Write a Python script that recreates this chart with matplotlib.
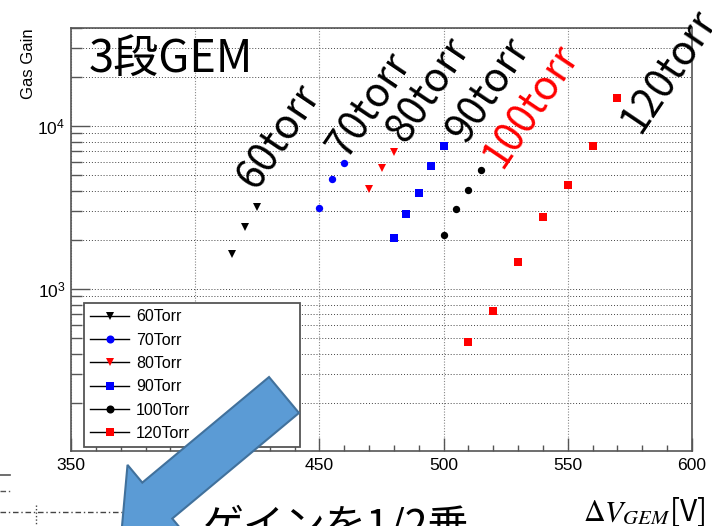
import matplotlib
matplotlib.use("Agg")
import matplotlib.pyplot as plt
from matplotlib.lines import Line2D
from matplotlib.patches import Polygon
from matplotlib.ticker import MultipleLocator, LogLocator, NullFormatter
import numpy as np

# ---- data: gas gain vs GEM voltage for each pressure ----
V60 = [415, 420, 425]
G60 = [1640, 2400, 3170]
V70 = [450, 455, 460]
G70 = [3140, 4710, 5900]
V80 = [470, 475, 480]
G80 = [4120, 5550, 6920]
V90 = [480, 485, 490, 495, 500]
G90 = [2040, 2890, 3860, 5670, 7500]
V100 = [500, 505, 510, 515]
G100 = [2130, 3110, 4060, 5370]
V120 = [510, 520, 530, 540, 550, 560, 570]
G120 = [473, 733, 1470, 2780, 4330, 7500, 14800]

legend_labels = ["60Torr", "70Torr", "80Torr", "90Torr", "100Torr", "120Torr"]
pressure_tags = ["60torr", "70torr", "80torr", "90torr", "100torr", "120torr"]

W, H = 712, 526
plt.rcParams["font.family"] = ["Liberation Sans", "DejaVu Sans"]
JP = ["Noto Sans CJK JP", "DejaVu Sans"]

fig = plt.figure(figsize=(W / 100, H / 100), dpi=100)
fig.patch.set_facecolor("white")


def fp(x, y):
    """pixel position (origin top-left) -> figure fraction"""
    return (x / W, 1 - y / H)


ax = fig.add_axes([71 / W, 1 - 451 / H, 621 / W, 423 / H])
ax.set_xlim(350, 600)
ax.set_yscale("log")
ax.set_ylim(101, 4e4)

series = [
    (V60, G60, "v", "black", 5.2),
    (V70, G70, "o", "blue", 5.3),
    (V80, G80, "v", "red", 5.2),
    (V90, G90, "s", "blue", 5.5),
    (V100, G100, "o", "black", 5.3),
    (V120, G120, "s", "red", 5.5),
]
handles = []
for (xv, yv, mk, col, ms), lab in zip(series, legend_labels):
    ax.plot(xv, yv, ls="none", marker=mk, color=col, ms=ms, mew=0, zorder=4)
    handles.append(Line2D([], [], color="black", lw=1.0, marker=mk,
                          mfc=col, mec=col, ms=ms + 0.5, mew=0))

# axis styling
frame_col = "#555555"
for s in ax.spines.values():
    s.set_color(frame_col)
    s.set_linewidth(1.2)

ax.xaxis.set_major_locator(MultipleLocator(50))
ax.xaxis.set_minor_locator(MultipleLocator(10))
ax.yaxis.set_major_locator(LogLocator(base=10))
ax.yaxis.set_minor_locator(LogLocator(base=10, subs=np.arange(2, 10)))
ax.yaxis.set_minor_formatter(NullFormatter())

ax.tick_params(axis="x", which="major", direction="in", length=9.2, width=1.0,
               color=frame_col, labelsize=12.6, pad=5, top=False)
ax.tick_params(axis="x", which="minor", direction="in", length=4.6, width=1.0,
               color=frame_col, top=False)
ax.tick_params(axis="y", which="major", direction="in", length=13.7, width=1.0,
               color=frame_col, labelsize=12.6, pad=4, right=False)
ax.tick_params(axis="y", which="minor", direction="in", length=7.7, width=1.0,
               color=frame_col, right=False)

ax.grid(axis="x", which="major", color="#888888", ls=(0, (1, 1.5)), lw=0.8)
ax.grid(axis="y", which="both", color="#444444", ls=(0, (1, 2)), lw=0.7)
ax.set_axisbelow(True)

fig.text(*fp(28.5, 28), "Gas Gain", rotation=90, ha="center", va="top",
         fontsize=12)

# legend
leg = fig.legend(handles, legend_labels, loc="upper left",
                 bbox_to_anchor=(84 / W, 1 - 445 / H, 216 / W, 142 / H),
                 mode="expand", fontsize=11.5, frameon=True, fancybox=False,
                 framealpha=1, edgecolor="#555555", labelspacing=0.52,
                 handlelength=2.4, handletextpad=0.45, borderpad=0.4,
                 borderaxespad=0)
leg.get_frame().set_linewidth(1.3)

# annotations
fig.text(*fp(89, 72), "3段GEM", family=JP, fontsize=32.5, ha="left",
         va="baseline")

tag_pos = [(256, 191), (347, 160), (406, 145), (466, 145), (502, 170), (640, 135)]
tag_col = ["black", "black", "black", "black", "red", "black"]
for t, (x, y), c in zip(pressure_tags, tag_pos, tag_col):
    fig.text(*fp(x, y), t, family=JP, fontsize=29, color=c, rotation=56,
             rotation_mode="anchor", ha="left", va="baseline")

# big arrow pointing down-left
S = np.array([284.0, 395.0])
D = np.array([-0.768, 0.640])
N = np.array([0.640, 0.768])
half_w, shaft_len, head_hw, head_len = 23.4, 165.0, 46.5, 46.4
B = S + shaft_len * D
pts = [S - half_w * N, B - half_w * N, B - head_hw * N, B + head_len * D,
       B + head_hw * N, B + half_w * N, S + half_w * N]
arrow = Polygon([fp(*p) for p in pts], closed=True, transform=fig.transFigure,
                facecolor="#5B9BD5", edgecolor="#41719C", lw=1.5, zorder=10)
fig.patches.append(arrow)

fig.text(*fp(203, 539), "ゲインを1/2乗", family=JP, fontsize=29.5,
         ha="left", va="baseline", zorder=11)
fig.text(*fp(583, 521), r"$\Delta V_{GEM}$[V]", family=JP, fontsize=21.5,
         math_fontfamily="stix", ha="left", va="baseline")

# pieces of the lower chart peeking in at the bottom-left
fig.add_artist(Line2D([0, 10 / W], [1 - 474.5 / H] * 2, color="#555555", lw=1.2,
                      transform=fig.transFigure))
fig.add_artist(Line2D([0, 10 / W], [1 - 491 / H] * 2, color="#555555", lw=1.0,
                      ls=(0, (4, 2, 1, 2)), transform=fig.transFigure))
fig.add_artist(Line2D([0, 122 / W], [1 - 511.5 / H] * 2, color="#444444", lw=1.0,
                      ls=(0, (4, 2, 1, 2)), transform=fig.transFigure))
fig.add_artist(Line2D([36 / W] * 2, [1 - 505 / H, 0], color="#444444", lw=1.0,
                      ls=(0, (1, 1.5)), transform=fig.transFigure))

fig.savefig("out.png", dpi=100)
